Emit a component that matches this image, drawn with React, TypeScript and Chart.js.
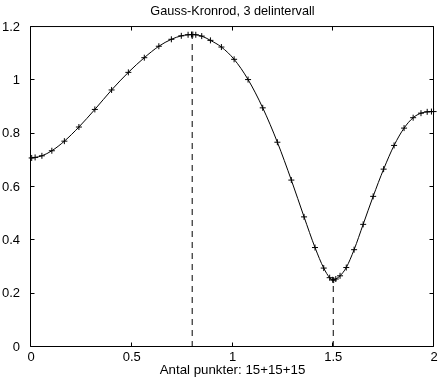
import { useEffect, useRef } from 'react';
import { Chart, registerables } from 'chart.js';

Chart.register(...registerables);

const titleText = 'Gauss-Kronrod, 3 delintervall';
const xLabel = 'Antal punkter: 15+15+15';
const xTicks = [0, 0.5, 1, 1.5, 2];
const yTicks = [0, 0.2, 0.4, 0.6, 0.8, 1, 1.2];

// 15-point Kronrod nodes on the subintervals [0, 0.8], [0.8, 1.5], [1.5, 2]
const nodesA = [0.0034, 0.0204, 0.0541, 0.1034, 0.1656, 0.2377, 0.3169, 0.4, 0.4831, 0.5623, 0.6344, 0.6966, 0.7459, 0.7796, 0.7966];
const valuesA = [0.709, 0.711, 0.717, 0.736, 0.772, 0.825, 0.891, 0.964, 1.03, 1.085, 1.128, 1.154, 1.167, 1.171, 1.172];
const nodesB = [0.803, 0.8178, 0.8473, 0.8905, 0.9449, 1.008, 1.0773, 1.15, 1.2227, 1.292, 1.3551, 1.4095, 1.4527, 1.4822, 1.497];
const valuesB = [1.172, 1.171, 1.166, 1.15, 1.125, 1.079, 1.003, 0.897, 0.768, 0.626, 0.488, 0.373, 0.296, 0.26, 0.252];
const nodesC = [1.5021, 1.5127, 1.5338, 1.5646, 1.6035, 1.6485, 1.6981, 1.75, 1.8019, 1.8515, 1.8965, 1.9354, 1.9662, 1.9873, 1.9979];
const valuesC = [0.251, 0.255, 0.267, 0.298, 0.365, 0.46, 0.565, 0.667, 0.756, 0.821, 0.86, 0.877, 0.882, 0.883, 0.883];

// Subinterval boundaries and the function value there
const breakpoints = [0.8, 1.5];
const breakpointValues = [1.172, 0.251];

const FONT = "'Liberation Sans', Arial, Helvetica, sans-serif";
const TICK_LEN = 4;

// Closed axes box with inward tick marks on all four sides
const boxAxes = {
  id: 'boxAxes',
  afterDatasetsDraw(chart: any) {
    const { ctx, chartArea, scales } = chart;
    const L = chartArea.left - 0.5;
    const R = chartArea.right - 0.5;
    const T = chartArea.top - 0.5;
    const B = chartArea.bottom - 0.5;
    ctx.save();
    ctx.strokeStyle = '#000';
    ctx.lineWidth = 1;
    ctx.setLineDash([]);
    ctx.beginPath();
    ctx.rect(L, T, R - L, B - T);
    for (const v of xTicks) {
      const px = Math.round(scales.x.getPixelForValue(v)) - 0.5;
      ctx.moveTo(px, B);
      ctx.lineTo(px, B - TICK_LEN);
      ctx.moveTo(px, T);
      ctx.lineTo(px, T + TICK_LEN);
    }
    for (const v of yTicks) {
      const py = Math.round(scales.y.getPixelForValue(v)) - 0.5;
      ctx.moveTo(L, py);
      ctx.lineTo(L + TICK_LEN, py);
      ctx.moveTo(R, py);
      ctx.lineTo(R - TICK_LEN, py);
    }
    ctx.stroke();
    ctx.restore();
  },
};

export default function App() {
  const ref = useRef<HTMLCanvasElement>(null);

  useEffect(() => {
    document.body.style.margin = '0';
    const nodes = [...nodesA, ...nodesB, ...nodesC];
    const values = [...valuesA, ...valuesB, ...valuesC];
    const curve = nodes.map((x, i) => ({ x, y: values[i] }));

    const dividerSets = breakpoints.map((b, i) => ({
      type: 'line' as const,
      data: [
        { x: b, y: 0 },
        { x: b, y: breakpointValues[i] },
      ],
      borderColor: '#000',
      borderWidth: 1,
      borderDash: [6, 5],
      pointRadius: 0,
      fill: false,
    }));

    const chart = new Chart(ref.current!, {
      type: 'line',
      data: {
        datasets: [
          ...dividerSets,
          {
            data: curve,
            borderColor: '#000',
            borderWidth: 1,
            cubicInterpolationMode: 'monotone',
            pointStyle: 'cross',
            pointRadius: 3,
            pointBorderWidth: 1,
            pointBorderColor: '#000',
            pointHoverRadius: 3,
            fill: false,
            clip: false,
          } as any,
        ],
      },
      options: {
        animation: false,
        responsive: true,
        maintainAspectRatio: false,
        events: [],
        layout: { padding: { left: 0, right: 1, top: 0, bottom: 0 } },
        plugins: {
          legend: { display: false },
          tooltip: { enabled: false },
          title: {
            display: true,
            fullSize: false,
            text: titleText,
            color: '#000',
            font: { family: FONT, size: 12.7, weight: 'normal' },
            padding: { top: 4.2, bottom: 7.6 },
          },
        },
        scales: {
          x: {
            type: 'linear',
            min: 0,
            max: 2,
            grid: { display: false },
            border: { display: false },
            afterBuildTicks: (s: any) => {
              s.ticks = xTicks.map((value) => ({ value }));
            },
            afterFit: (s: any) => {
              s.height = 32;
              s.paddingLeft = 0;
              s.paddingRight = 0;
            },
            ticks: {
              color: '#000',
              padding: -5,
              maxRotation: 0,
              autoSkip: false,
              font: { family: FONT, size: 13 },
              callback: (v: any) => String(v),
            },
            title: {
              display: true,
              text: xLabel,
              color: '#000',
              font: { family: FONT, size: 13.3 },
              padding: { top: 0, bottom: 1 },
            },
          },
          y: {
            type: 'linear',
            min: 0,
            max: 1.2,
            grid: { display: false },
            border: { display: false },
            afterBuildTicks: (s: any) => {
              s.ticks = yTicks.map((value) => ({ value }));
            },
            afterFit: (s: any) => {
              s.width = 31;
              s.paddingTop = 0;
              s.paddingBottom = 0;
            },
            ticks: {
              color: '#000',
              padding: 3,
              autoSkip: false,
              font: { family: FONT, size: 13 },
              callback: (v: any) => String(v),
            },
          },
        },
      },
      plugins: [boxAxes],
    });

    return () => chart.destroy();
  }, []);

  return (
    <div style={{ position: 'relative', width: 438, height: 379 }}>
      <canvas ref={ref} />
    </div>
  );
}
